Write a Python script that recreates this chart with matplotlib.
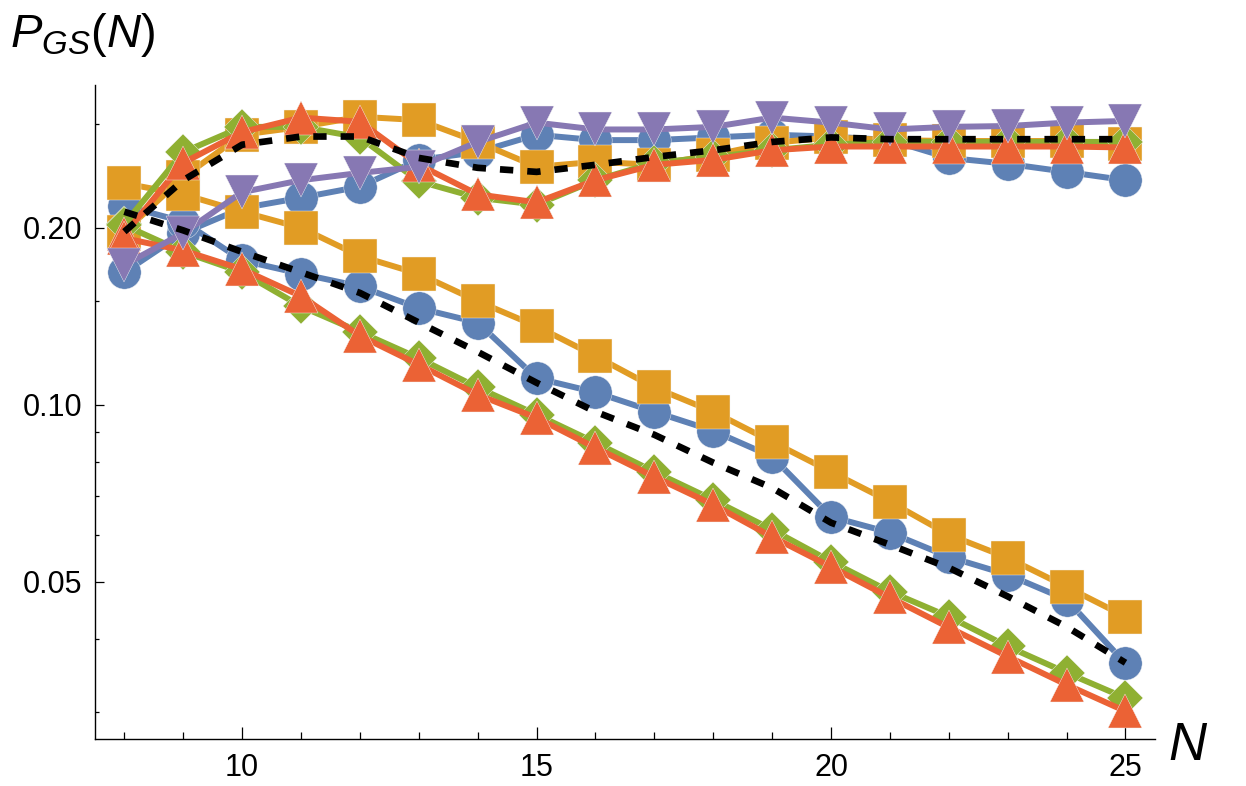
import matplotlib.pyplot as plt
from matplotlib.ticker import FixedLocator, FuncFormatter, NullFormatter

plt.rcParams['font.family'] = ['Liberation Sans', 'DejaVu Sans']
plt.rcParams['mathtext.fontset'] = 'custom'
plt.rcParams['mathtext.it'] = 'Liberation Sans:italic'
plt.rcParams['mathtext.rm'] = 'Liberation Sans'

N = list(range(8, 26))

# upper branch (goes up to the plateau) and lower branch (decays) for each colour
blue_up = [0.168, 0.196, 0.216, 0.225, 0.235, 0.261, 0.269, 0.288, 0.282, 0.282,
           0.285, 0.288, 0.286, 0.282, 0.263, 0.257, 0.249, 0.241]
blue_down = [0.218, 0.205, 0.176, 0.167, 0.159, 0.146, 0.138, 0.111, 0.105, 0.0973,
             0.0903, 0.0816, 0.0645, 0.0606, 0.0551, 0.0514, 0.0466, 0.0363]
orange_up = [0.197, 0.244, 0.288, 0.297, 0.309, 0.305, 0.280, 0.254, 0.259, 0.256,
             0.266, 0.279, 0.285, 0.282, 0.281, 0.281, 0.281, 0.278]
orange_down = [0.238, 0.228, 0.213, 0.200, 0.179, 0.167, 0.150, 0.136, 0.121, 0.107,
               0.0973, 0.0865, 0.0769, 0.0684, 0.0601, 0.0549, 0.0490, 0.0436]
green_up = [0.203, 0.269, 0.297, 0.297, 0.285, 0.240, 0.225, 0.219, 0.241, 0.258,
            0.264, 0.271, 0.277, 0.280, 0.280, 0.280, 0.280, 0.280]
green_down = [0.202, 0.182, 0.168, 0.147, 0.133, 0.120, 0.107, 0.0962, 0.0862, 0.0769,
              0.0689, 0.0613, 0.0541, 0.0481, 0.0436, 0.0388, 0.0350, 0.0317]
red_up = [0.195, 0.258, 0.291, 0.308, 0.303, 0.256, 0.228, 0.221, 0.241, 0.256,
          0.261, 0.271, 0.275, 0.275, 0.275, 0.275, 0.275, 0.274]
red_down = [0.192, 0.183, 0.170, 0.153, 0.131, 0.117, 0.104, 0.0950, 0.0845, 0.0754,
            0.0676, 0.0596, 0.0530, 0.0470, 0.0418, 0.0373, 0.0334, 0.0301]
purple_up = [0.173, 0.196, 0.230, 0.241, 0.248, 0.254, 0.280, 0.302, 0.294, 0.294,
             0.297, 0.308, 0.302, 0.294, 0.297, 0.298, 0.302, 0.304]
black_up = [0.197, 0.241, 0.277, 0.286, 0.286, 0.263, 0.253, 0.249, 0.256, 0.264,
            0.271, 0.280, 0.285, 0.283, 0.283, 0.283, 0.283, 0.283]
black_down = [0.213, 0.198, 0.182, 0.168, 0.155, 0.138, 0.123, 0.109, 0.0973, 0.0889,
              0.0797, 0.0722, 0.0630, 0.0578, 0.0528, 0.0472, 0.0419, 0.0364]

fig = plt.figure(figsize=(12.46, 7.86), dpi=100)
ax = fig.add_axes([0.0762, 0.0598, 0.8507, 0.8321])

styles = [
    ('#5E81B5', 'o', 24, [blue_up, blue_down]),
    ('#E19C24', 's', 25, [orange_up, orange_down]),
    ('#8FB032', 'D', 18.5, [green_up, green_down]),
    ('#EB6235', '^', 24.5, [red_up, red_down]),
    ('#8778B3', 'v', 24.5, [purple_up]),
]
for col, mk, ms, series in styles:
    for ys in series:
        ax.plot(N, ys, color=col, lw=4.3, marker=mk, ms=ms, mec='#f4f4f4', mew=0.3)

for ys in [black_up, black_down]:
    ax.plot(N, ys, color='black', lw=4.8, dashes=(2.0, 2.1), zorder=10)

ax.set_yscale('log')
ax.set_xlim(7.5, 25.5)
ax.set_ylim(0.027, 0.35)

ax.yaxis.set_major_locator(FixedLocator([0.05, 0.1, 0.2]))
ax.yaxis.set_major_formatter(FuncFormatter(lambda v, p: '%.2f' % v))
ax.yaxis.set_minor_locator(FixedLocator([0.03, 0.04, 0.06, 0.07, 0.08, 0.09, 0.15, 0.3]))
ax.yaxis.set_minor_formatter(NullFormatter())
ax.xaxis.set_major_locator(FixedLocator([10, 15, 20, 25]))
ax.xaxis.set_minor_locator(FixedLocator(list(range(8, 26))))

for s in ['top', 'right']:
    ax.spines[s].set_visible(False)
for s in ['left', 'bottom']:
    ax.spines[s].set_linewidth(1.0)

ax.tick_params(axis='both', which='both', direction='in', width=0.9, labelsize=22)
ax.tick_params(axis='x', which='major', length=8.5, pad=10)
ax.tick_params(axis='x', which='minor', length=5)
ax.tick_params(axis='y', which='major', length=6.5, pad=9)
ax.tick_params(axis='y', which='minor', length=3)

fig.text(0.008, 1 - 47 / 786, r'$\mathit{P}_{\mathit{GS}}\mathit{(N)}$', fontsize=34, va='baseline')
fig.text(0.938, 1 - 760 / 786, 'N', fontsize=38, style='italic', va='baseline')

fig.savefig('out.png', dpi=100)
